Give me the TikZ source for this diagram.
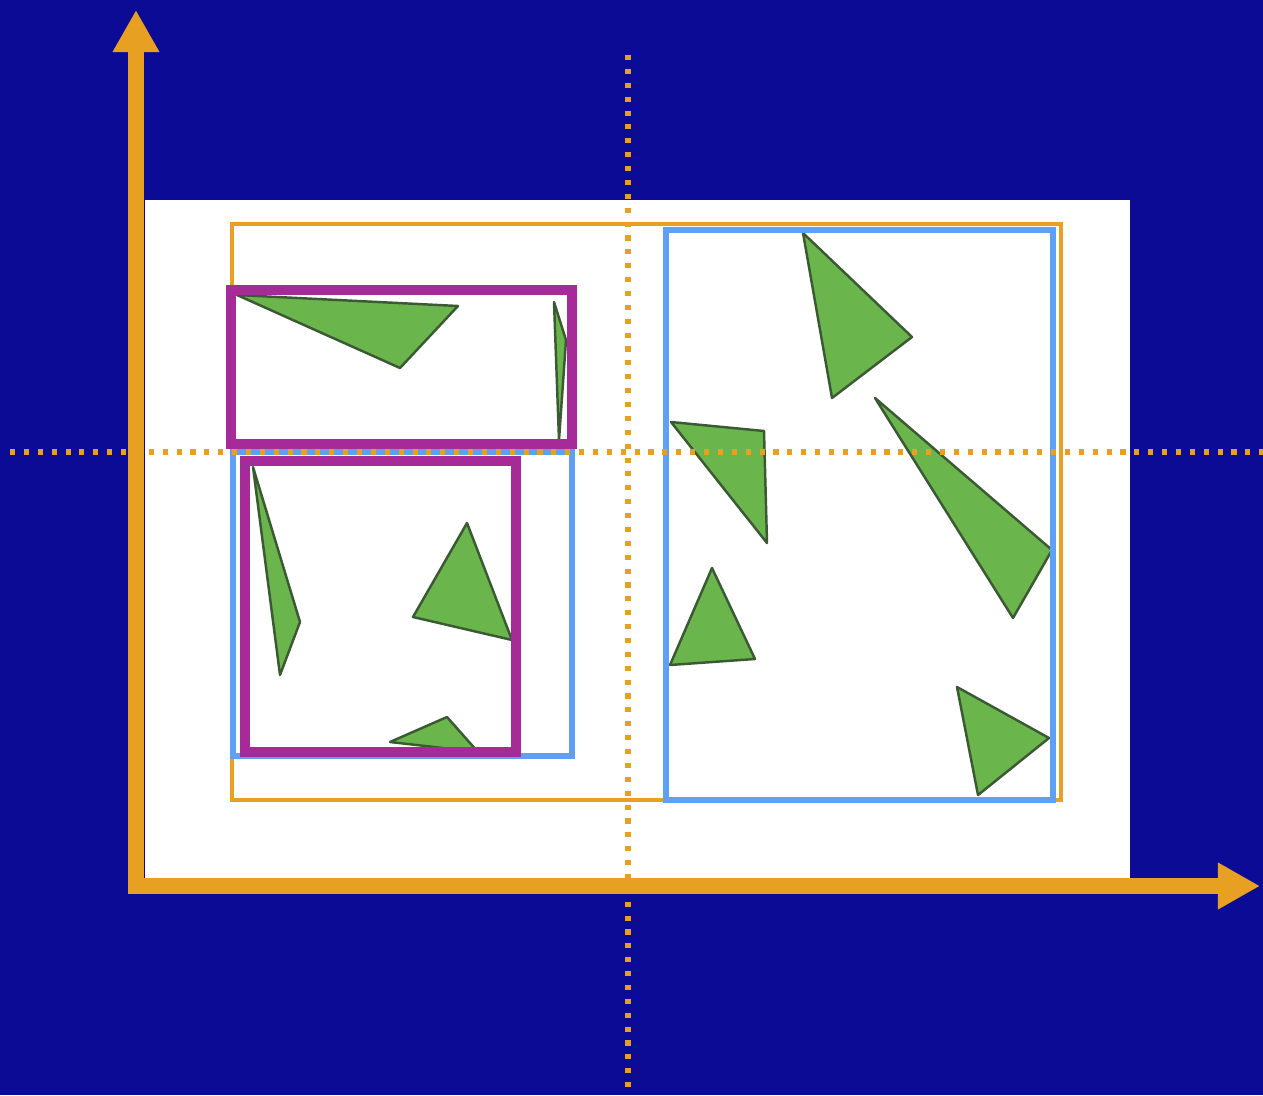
\documentclass[tikz,border=0pt]{standalone}
\usepackage{tikz}
\usetikzlibrary{arrows.meta}
\definecolor{bg}{HTML}{0B0B96}
\definecolor{axis}{HTML}{E8A022}
\definecolor{split}{HTML}{5F9FF5}
\definecolor{leaf}{HTML}{A62A98}
\definecolor{shard}{HTML}{6BB64C}
\definecolor{shardline}{HTML}{3B5A34}
\tikzset{
  axisline/.style={axis,line width=9pt,-{Triangle[length=24pt,width=25pt]}},
  guide/.style={axis,line width=2.9pt,dash pattern=on 2.9pt off 5pt},
  rootbox/.style={axis,line width=2.8pt},
  splitbox/.style={split,line width=3.2pt},
  leafbox/.style={leaf,line width=5.4pt},
  shardfill/.style={fill=shard,draw=shardline,line width=1.4pt,line join=round}
}
\begin{document}
\begin{tikzpicture}[x=0.02cm,y=-0.02cm]
  \useasboundingbox (0,0) rectangle (1263,1095);
  \fill[bg] (0,0) rectangle (1263,1095);

  % data region
  \fill[white] (145,200) rectangle (1130,880);

  % triangles
  \filldraw[shardfill] (237,295) -- (458,306) -- (400,368) -- cycle;
  \filldraw[shardfill] (554,302) -- (566,340) -- (559,440) -- cycle;
  \filldraw[shardfill] (253,467) -- (300,622) -- (280,675) -- cycle;
  \filldraw[shardfill] (467,523) -- (512,640) -- (413,617) -- cycle;
  \filldraw[shardfill] (390,742) -- (447,717) -- (478,752) -- cycle;
  \filldraw[shardfill] (803,233) -- (912,337) -- (832,398) -- cycle;
  \filldraw[shardfill] (671,422) -- (764,431) -- (767,543) -- cycle;
  \filldraw[shardfill] (875,398) -- (1052,550) -- (1013,618) -- cycle;
  \filldraw[shardfill] (712,568) -- (755,659) -- (670,665) -- cycle;
  \filldraw[shardfill] (957,687) -- (1049,738) -- (978,795) -- cycle;

  % bounding boxes
  \draw[rootbox] (232,224) rectangle (1061,800);
  \draw[splitbox] (666,230) rectangle (1053,800);
  \draw[splitbox] (233,452) rectangle (572,756);
  \draw[leafbox] (231,290) rectangle (572,444);
  \draw[leafbox] (245,461) rectangle (516,752);

  % split lines
  \draw[guide] (628,55) -- (628,1095);
  \draw[guide] (10,452) -- (1263,452);

  % axes
  \coordinate (origin) at (136,886);
  \coordinate (ytip) at (136,10);
  \coordinate (xtip) at (1260,886);
  \draw[axisline,line cap=rect] (origin) -- (ytip);
  \draw[axisline,line cap=rect] (origin) -- (xtip);
\end{tikzpicture}
\end{document}
